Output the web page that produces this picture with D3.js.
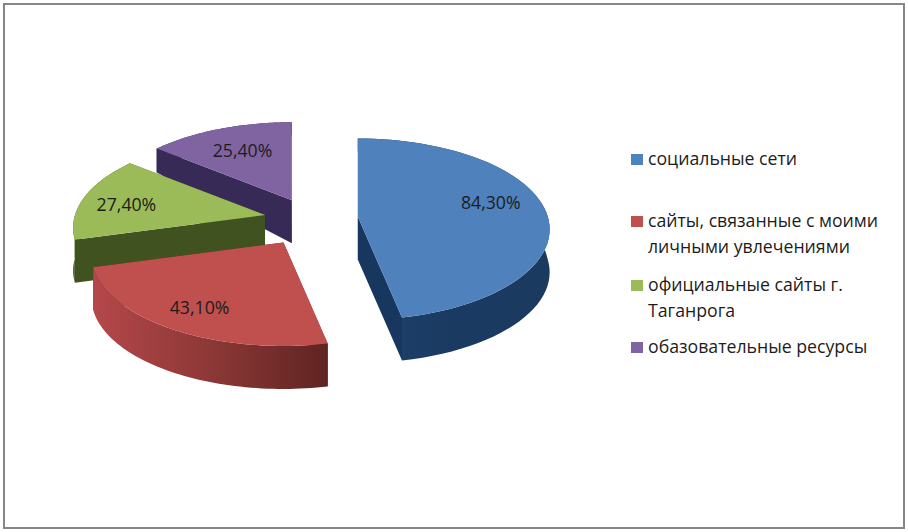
<!DOCTYPE html>
<html>
<head>
<meta charset="utf-8">
<script src="https://cdn.jsdelivr.net/npm/d3@7/dist/d3.min.js"></script>
<style>
html,body{margin:0;padding:0;background:#fff}
svg{display:block}
text{font-family:"Open Sans","Noto Sans",sans-serif;fill:#1c1c1c}
</style>
</head>
<body>
<svg id="chart" width="908" height="532"></svg>
<script>
const categories = ["социальные сети","сайты, связанные с моими личными увлечениями","официальные сайты г. Таганрога","обазовательные ресурсы"];
const values = [84.3, 43.1, 27.4, 25.4];
const valueLabels = ["84,30%","43,10%","27,40%","25,40%"];
const legendLines = [["социальные сети"],["сайты, связанные с моими","личными увлечениями"],["официальные сайты г.","Таганрога"],["обазовательные ресурсы"]];
const topColors = ["#4f81bd","#c0504d","#9bbb59","#8064a2"];
const sideColors = ["#17375e","#632523","#3f5220","#372a57"];
const wallStops = [["#1f4169","#1a3a62","#1b3a60"],["#b5474a","#8c3836","#5f2422"],["#3f5220","#3f5220","#3f5220"],["#372a57","#372a57","#372a57"]];

const W = 908, H = 532;
const cx = 310, cy = 220, k = 0.14, depth = 43;
const svg = d3.select("#chart");
const defs = svg.append("defs");

svg.append("rect").attr("x",4).attr("y",4).attr("width",900).attr("height",524)
  .attr("fill","#fff").attr("stroke","#868686").attr("stroke-width",2);

const sx = d3.scaleLinear().domain([-1,1]).range([-190,190]);
const sy = d3.scaleLinear().domain([-1,1]).range([89,-89]);
const ex = d3.scaleLinear().domain([-1,1]).range([-47,47]);
const ey = d3.scaleLinear().domain([-1,1]).range([24,-24]);

const pie = d3.pie().sort(null).value(d=>d);
const arcs = pie(values);
const sliceNudge = [[1,-1],[-2,2],[1,0],[2,2]];

function offset(a){ const m=(a.startAngle+a.endAngle)/2, n=sliceNudge[a.index]; return [cx+ex(Math.sin(m))+n[0], cy+ey(Math.cos(m))+n[1]]; }
function proj(a0, ang, r){
  const X=r*Math.sin(ang), Y=r*Math.cos(ang), w=1/(1+k*Y);
  return [a0[0]+sx(X)*w, a0[1]+sy(Y)*w];
}
function drop(ang, r){ const Y=r*Math.cos(ang); return depth*(1-0.7*Math.max(0,Y)); }
const line = d3.line();

function rim(a,o){
  return d3.range(0,61).map(i=>{ const t=a.startAngle+(a.endAngle-a.startAngle)*i/60; return {t,p:proj(o,t,1)}; });
}

// back-to-front painter order
[3,2,0,1].forEach(i=>{
  const a=arcs[i], o=offset(a), g=svg.append("g"), pts=rim(a,o);
  const xs=pts.map(d=>d.p[0]);
  const gid="wall"+i;
  const lg=defs.append("linearGradient").attr("id",gid).attr("gradientUnits","userSpaceOnUse")
    .attr("x1",d3.min(xs)).attr("x2",d3.max(xs)).attr("y1",0).attr("y2",0);
  wallStops[i].forEach((c,j)=>lg.append("stop").attr("offset",j/2).attr("stop-color",c));

  [a.startAngle,a.endAngle].forEach(t=>{
    const r=proj(o,t,1), d=drop(t,1), d0=drop(t,0);
    g.append("path").attr("d",line([o,r,[r[0],r[1]+d],[o[0],o[1]+d0]])+"Z").attr("fill",sideColors[i]);
  });
  const up=pts.map(d=>d.p), down=pts.map(d=>[d.p[0],d.p[1]+drop(d.t,1)]).reverse();
  g.append("path").attr("d",line(up.concat(down))+"Z").attr("fill",`url(#${gid})`);
  g.append("path").attr("d",line([o].concat(up))+"Z").attr("fill",topColors[i]);
});

// value labels
const labelR = [0.7,0.76,0.7,0.7];
const labelNudge = [[2,-7],[-1,2],[-11,3],[3,2]];
arcs.forEach((a,i)=>{
  const m=(a.startAngle+a.endAngle)/2, p=proj(offset(a),m,labelR[i]);
  svg.append("text").attr("x",p[0]+labelNudge[i][0]).attr("y",p[1]+labelNudge[i][1]+6)
    .attr("text-anchor","middle").attr("font-size",17.7).text(valueLabels[i]);
});

// legend
const legendBase = [165,227,291,353];
const legendY = d3.scaleOrdinal().domain(d3.range(4)).range(legendBase);
categories.forEach((c,i)=>{
  const y=legendY(i);
  svg.append("rect").attr("x",631).attr("y",y-11).attr("width",12).attr("height",11).attr("fill",topColors[i]);
  legendLines[i].forEach((t,j)=>{
    svg.append("text").attr("x",648).attr("y",y+j*25.5).attr("font-size",17.7).text(t);
  });
});
</script>
</body>
</html>
